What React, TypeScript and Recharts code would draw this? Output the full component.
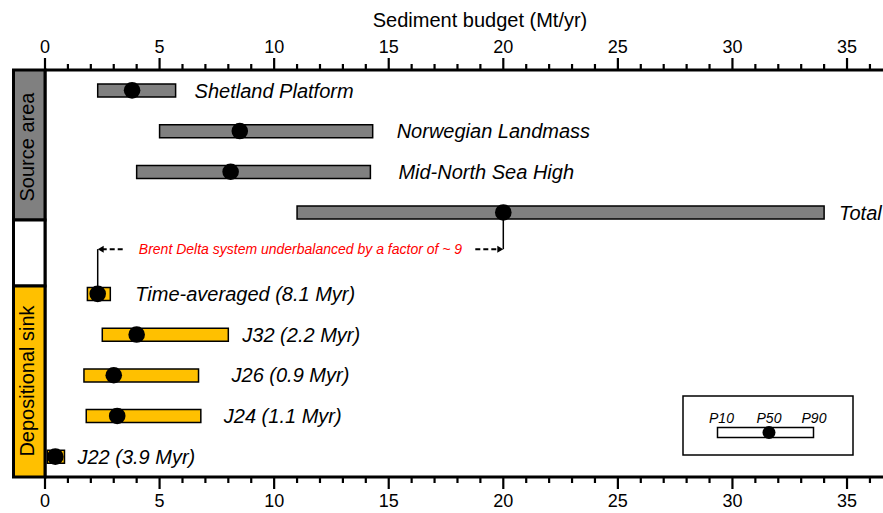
import React from "react";
import {
  ComposedChart,
  Bar,
  Line,
  XAxis,
  YAxis,
  Cell,
  LabelList,
  ReferenceLine,
} from "recharts";

// one row per budget estimate; "gap" is the blank row that carries the balance note
const rows = [
  "Shetland Platform",
  "Norwegian Landmass",
  "Mid-North Sea High",
  "Total",
  "gap",
  "Time-averaged (8.1 Myr)",
  "J32 (2.2 Myr)",
  "J26 (0.9 Myr)",
  "J24 (1.1 Myr)",
  "J22 (3.9 Myr)",
];
const groups = ["source", "source", "source", "source", "", "sink", "sink", "sink", "sink", "sink"];

// Mt/yr
const p10 = [2.3, 5.0, 4.0, 11.0, null, 1.85, 2.5, 1.7, 1.8, 0.1];
const p50 = [3.8, 8.5, 8.1, 20.0, null, 2.3, 4.0, 3.0, 3.15, 0.45];
const p90 = [5.7, 14.3, 14.2, 34.0, null, 2.85, 8.0, 6.7, 6.8, 0.85];

const xTicks = Array.from({ length: 37 }, (_, i) => i); // minor tick every 1 Mt/yr
const X_MAX = 36.57;

const data = rows.map((name, i) => ({
  name,
  group: groups[i],
  range: p10[i] == null ? null : [p10[i], p90[i]],
  p50: p50[i],
}));

const FONT = "'Liberation Sans', Arial, sans-serif";
const GREY = "#808080";
const GOLD = "#FFC000";

// gap (px) between the end of a bar and its italic label
const labelGap = [19, 24, 28, 15, 0, 25, 14, 33, 23, 13];

const totalRow = rows.indexOf("Total");
const avgRow = rows.indexOf("Time-averaged (8.1 Myr)");
const NOTE_DY = -4;

const TopTick = (props: any) => {
  const { x, y, payload } = props;
  const major = payload.value % 5 === 0;
  return (
    <g>
      <line x1={x} x2={x} y1={y} y2={y - (major ? 12 : 6)} stroke="#000" strokeWidth={2.2} />
      {major && (
        <text x={x} y={y - 23} textAnchor="middle" dominantBaseline="central" fontSize={18} fill="#000" fontFamily={FONT}>
          {payload.value}
        </text>
      )}
    </g>
  );
};

const BottomTick = (props: any) => {
  const { x, y, payload } = props;
  const major = payload.value % 5 === 0;
  return (
    <g>
      <line x1={x} x2={x} y1={y} y2={y + (major ? 12 : 6)} stroke="#000" strokeWidth={2.2} />
      {major && (
        <text x={x} y={y + 24} textAnchor="middle" dominantBaseline="central" fontSize={18} fill="#000" fontFamily={FONT}>
          {payload.value}
        </text>
      )}
    </g>
  );
};

const renderTitle = (props: any) => {
  const vb = props.viewBox;
  return (
    <text x={vb.x + vb.width / 2 + 16} y={27} textAnchor="middle" fontSize={20} fill="#000" fontFamily={FONT}>
      Sediment budget (Mt/yr)
    </text>
  );
};

const renderRowLabel = (props: any) => {
  const { x, y, width, height, value } = props;
  if (!value || value === "gap") return null;
  const row = rows.indexOf(value);
  return (
    <text
      x={x + width + labelGap[row]}
      y={y + height / 2}
      dominantBaseline="central"
      fontSize={20}
      fontStyle="italic"
      fill="#000"
      fontFamily={FONT}
    >
      {value}
    </text>
  );
};

// vertical leader from a P50 dot to the note row
const Riser = (props: any) => (
  <line x1={props.x1} y1={props.y1} x2={props.x2} y2={props.y2 + NOTE_DY} stroke="#000" strokeWidth={1.5} />
);

const BalanceNote = (props: any) => {
  const { x1, x2 } = props;
  const y = props.y1 + NOTE_DY;
  return (
    <g>
      <line x1={x1 + 4} x2={x1 + 26} y1={y} y2={y} stroke="#000" strokeWidth={2} strokeDasharray="5 3" />
      <polygon points={`${x1},${y} ${x1 + 6},${y - 3.5} ${x1 + 6},${y + 3.5}`} fill="#000" />
      <line x1={x2 - 28} x2={x2 - 4} y1={y} y2={y} stroke="#000" strokeWidth={2} strokeDasharray="5 3" />
      <polygon points={`${x2},${y} ${x2 - 6},${y - 3.5} ${x2 - 6},${y + 3.5}`} fill="#000" />
      <text
        x={(x1 + x2) / 2}
        y={y}
        textAnchor="middle"
        dominantBaseline="central"
        fontSize={14}
        fontStyle="italic"
        fill="#ff0000"
        fontFamily={FONT}
      >
        Brent Delta system underbalanced by a factor of ~ 9
      </text>
    </g>
  );
};

// side group boxes and the P10/P50/P90 key
const Overlay = () => (
  <svg
    width={883}
    height={513}
    style={{ position: "absolute", left: 0, top: 0, pointerEvents: "none" }}
    fontFamily={FONT}
  >
    <rect x={13.5} y={70} width={31.5} height={150} fill={GREY} stroke="#000" strokeWidth={3} />
    <rect x={13.5} y={220} width={31.5} height={66} fill="#fff" stroke="#000" strokeWidth={3} />
    <rect x={13.5} y={286} width={31.5} height={191} fill={GOLD} stroke="#000" strokeWidth={3} />
    <text
      transform="translate(27,147) rotate(-90)"
      textAnchor="middle"
      dominantBaseline="central"
      fontSize={20}
      fill="#000"
    >
      Source area
    </text>
    <text
      transform="translate(27,381) rotate(-90)"
      textAnchor="middle"
      dominantBaseline="central"
      fontSize={20}
      fill="#000"
    >
      Depositional sink
    </text>

    <rect x={683} y={396} width={170} height={59} fill="#fff" stroke="#000" strokeWidth={1.5} />
    <rect x={717.5} y={427.5} width={96} height={10} fill="#fff" stroke="#000" strokeWidth={1.5} />
    <circle cx={769} cy={432.5} r={6.5} fill="#000" />
    {[
      ["P10", 721.5],
      ["P50", 769],
      ["P90", 814],
    ].map(([t, cx]) => (
      <text
        key={t as string}
        x={cx as number}
        y={417.5}
        textAnchor="middle"
        dominantBaseline="central"
        fontSize={14}
        fontStyle="italic"
        fill="#000"
      >
        {t}
      </text>
    ))}
  </svg>
);

const App: React.FC = () => {
  return (
    <div style={{ position: "absolute", left: 0, top: 0, width: 883, height: 513, background: "#fff", fontFamily: FONT }}>
      <ComposedChart
        width={883}
        height={513}
        layout="vertical"
        data={data}
        margin={{ top: 0, right: 0, bottom: 0, left: 0 }}
      >
        <XAxis
          xAxisId="top"
          orientation="top"
          type="number"
          domain={[0, X_MAX]}
          ticks={xTicks}
          interval={0}
          height={70}
          tickSize={0}
          tickMargin={0}
          tickLine={false}
          tick={<TopTick />}
          axisLine={{ stroke: "#000", strokeWidth: 3 }}
          label={renderTitle}
        />
        <XAxis
          xAxisId="bottom"
          orientation="bottom"
          type="number"
          domain={[0, X_MAX]}
          ticks={xTicks}
          interval={0}
          height={36}
          tickSize={0}
          tickMargin={0}
          tickLine={false}
          tick={<BottomTick />}
          axisLine={{ stroke: "#000", strokeWidth: 3 }}
        />
        <YAxis
          type="category"
          dataKey="name"
          width={45}
          tick={false}
          tickLine={false}
          axisLine={{ stroke: "#000", strokeWidth: 3 }}
        />

        <ReferenceLine
          xAxisId="bottom"
          segment={[{ x: p50[totalRow], y: "Total" }, { x: p50[totalRow], y: "gap" }]}
          shape={Riser}
          ifOverflow="visible"
        />
        <ReferenceLine
          xAxisId="bottom"
          segment={[{ x: p50[avgRow], y: rows[avgRow] }, { x: p50[avgRow], y: "gap" }]}
          shape={Riser}
          ifOverflow="visible"
        />
        <ReferenceLine
          xAxisId="bottom"
          segment={[{ x: p50[avgRow], y: "gap" }, { x: p50[totalRow], y: "gap" }]}
          shape={BalanceNote}
          ifOverflow="visible"
        />

        <Bar
          xAxisId="bottom"
          dataKey="range"
          barSize={13}
          stroke="#000"
          strokeWidth={1.5}
          isAnimationActive={false}
        >
          {data.map((d, i) => (
            <Cell key={i} fill={d.group === "sink" ? GOLD : GREY} />
          ))}
          <LabelList dataKey="name" content={renderRowLabel} />
        </Bar>
        {/* P50 dots sit on the top scale so that axis gets its ticks too */}
        <Line
          xAxisId="top"
          dataKey="p50"
          stroke="none"
          dot={{ r: 8.3, fill: "#000", stroke: "none" }}
          activeDot={false}
          isAnimationActive={false}
        />
      </ComposedChart>
      <Overlay />
    </div>
  );
};

export default App;
